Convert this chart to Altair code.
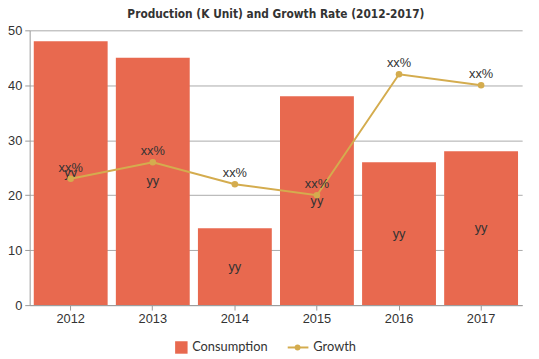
import altair as alt
import pandas as pd

years = ["2012", "2013", "2014", "2015", "2016", "2017"]
consumption = [48, 45, 14, 38, 26, 28]
growth = [23, 26, 22, 20, 42, 40]
bar_labels = ["yy"] * 6
line_labels = ["xx%"] * 6

df = pd.DataFrame({
    "year": years,
    "consumption": consumption,
    "half": [c / 2 for c in consumption],
    "growth": growth,
    "yy": bar_labels,
    "xx": line_labels,
})

BAR = "#E8694F"
LINE = "#D4AC4E"

x = alt.X("year:N", title=None,
          scale=alt.Scale(paddingInner=0.1, paddingOuter=0.05),
          axis=alt.Axis(labelAngle=0, labelFont="Liberation Sans", labelFontSize=13,
                        labelColor="#333", domainColor="#999", tickColor="#999",
                        labelPadding=3, grid=False))
yscale = alt.Scale(domain=[0, 50])

base = alt.Chart(df)

bars = base.mark_bar(color=BAR).encode(
    x=x,
    y=alt.Y("consumption:Q", title=None, scale=yscale,
            axis=alt.Axis(values=[0, 10, 20, 30, 40, 50], labelFont="Liberation Sans",
                          labelFontSize=13, labelColor="#333", domainColor="#999",
                          tickColor="#999", gridColor="#aaa", labelPadding=3)),
)

yy = base.mark_text(font="Liberation Sans", fontSize=13, color="#333").encode(
    x=x, y=alt.Y("half:Q", scale=yscale), text="yy:N")

line = base.mark_line(color=LINE, strokeWidth=2).encode(
    x=x, y=alt.Y("growth:Q", scale=yscale))
pts = base.mark_circle(color=LINE, size=45, opacity=1).encode(
    x=x, y=alt.Y("growth:Q", scale=yscale))
xx = base.mark_text(font="Liberation Sans", fontSize=13, color="#333", dy=-11).encode(
    x=x, y=alt.Y("growth:Q", scale=yscale), text="xx:N")

# legend
leg = pd.DataFrame({"k": [0]})
lb = alt.Chart(leg)
sq = lb.mark_square(color=BAR, size=160, opacity=1).encode(x=alt.value(154), y=alt.value(322))
t1 = lb.mark_text(text="Consumption", font="Lato", fontSize=13, color="#333", align="left",
                  baseline="middle").encode(x=alt.value(165), y=alt.value(322))
lr = lb.mark_rule(color=LINE, strokeWidth=2).encode(x=alt.value(262), x2=alt.value(283), y=alt.value(322))
ld = lb.mark_circle(color=LINE, size=35, opacity=1).encode(x=alt.value(272), y=alt.value(322))
t2 = lb.mark_text(text="Growth", font="Lato", fontSize=13, color="#333", align="left",
                  baseline="middle").encode(x=alt.value(288), y=alt.value(322))

chart = alt.layer(bars, yy, line, pts, xx, sq, t1, lr, ld, t2).properties(
    width=500, height=279,
    title=alt.TitleParams("Production (K Unit) and Growth Rate (2012-2017)",
                          font="DejaVu Sans Condensed", fontSize=12, fontWeight="bold",
                          color="#333", anchor="middle", offset=4),
    padding={"left": 22, "top": 20, "right": 9, "bottom": 50},
    autosize=alt.AutoSizeParams(type="none"),
).configure_view(stroke=None)

chart.save("out.html", embed_options={"renderer": "svg", "actions": False})
